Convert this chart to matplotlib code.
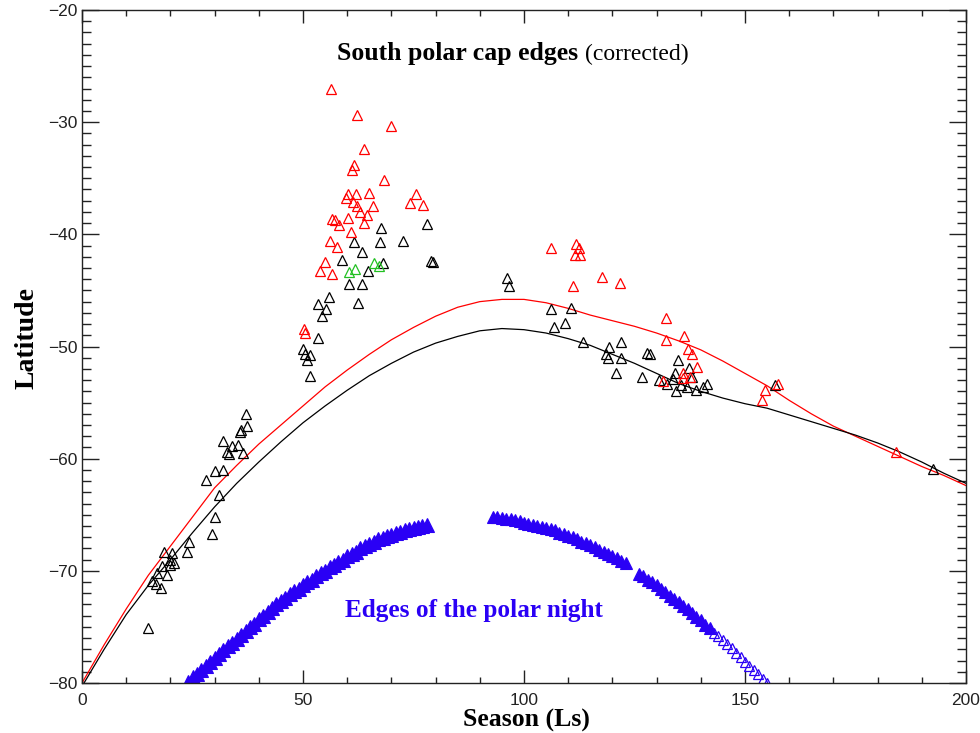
import matplotlib
matplotlib.use("Agg")
import matplotlib.pyplot as plt
from matplotlib.ticker import MultipleLocator

# model curves (Ls, latitude)
curve_ls = [0, 5, 10, 15, 20, 25, 30, 35, 40, 45, 50, 55, 60, 65, 70, 75, 80, 85, 90, 95,
            100, 105, 110, 115, 120, 125, 130, 135, 140, 145, 150, 155, 160, 165, 170, 175,
            180, 185, 190, 195, 200]
black_curve = [-80.3, -77.0, -73.9, -71.3, -69.0, -66.6, -64.3, -62.2, -60.3, -58.5, -56.8,
               -55.3, -53.9, -52.6, -51.5, -50.5, -49.7, -49.1, -48.6, -48.4, -48.5, -48.8,
               -49.3, -49.9, -50.7, -51.5, -52.4, -53.3, -54.0, -54.6, -55.1, -55.5, -56.1,
               -56.7, -57.3, -57.9, -58.6, -59.4, -60.3, -61.3, -62.2]
red_curve = [-80.0, -76.6, -73.4, -70.4, -67.8, -65.2, -62.6, -60.6, -58.7, -57.0, -55.3,
             -53.6, -52.1, -50.7, -49.4, -48.3, -47.3, -46.5, -46.0, -45.8, -45.8, -46.1,
             -46.6, -47.2, -47.7, -48.2, -48.8, -49.5, -50.3, -51.3, -52.4, -53.5, -54.8,
             -56.0, -57.1, -58.0, -58.9, -59.8, -60.7, -61.5, -62.4]

# observed cap edges
black_ls = [15.0, 15.8, 16.7, 16.9, 17.9, 18.0, 18.6, 19.2, 19.8, 19.9, 20.3, 20.8, 23.7, 24.2,
            28.1, 29.4, 30.0, 30.9, 30.2, 32.0, 31.8, 32.7, 33.3, 33.9, 35.3, 35.8, 36.0, 36.5,
            37.3, 37.0, 50.0, 50.4, 50.8, 51.5, 51.6, 53.3, 53.5, 54.3, 55.3, 55.9, 58.8, 60.4,
            61.6, 62.5, 63.3, 63.3, 64.8, 67.5, 67.7, 68.2, 72.6, 78.1, 79.0, 79.4,
            96.2, 96.7, 106.0, 106.9, 109.3, 110.7, 113.4, 118.6, 119.1, 119.2, 120.8, 121.9,
            121.9, 126.8, 127.9, 128.6, 130.6, 132.3, 133.8, 134.2, 134.5, 134.9, 135.5, 136.8,
            137.4, 137.9, 139.0, 140.6, 141.3, 156.8, 192.6]
black_lat = [-75.1, -70.9, -71.2, -70.2, -71.5, -69.6, -68.3, -70.4, -69.0, -69.5, -68.4, -69.3,
             -68.3, -67.4, -61.9, -66.7, -65.2, -63.2, -61.1, -61.0, -58.4, -59.4, -59.6, -58.9,
             -58.8, -57.6, -57.4, -59.5, -57.1, -56.0, -50.2, -50.7, -51.2, -50.8, -52.6, -49.2,
             -46.2, -47.3, -46.7, -45.6, -42.3, -44.4, -40.7, -46.1, -41.6, -44.4, -43.3, -40.7,
             -39.4, -42.6, -40.6, -39.1, -42.4, -42.5,
             -43.9, -44.6, -46.7, -48.3, -47.9, -46.6, -49.6, -50.7, -51.0, -50.0, -52.4, -49.6,
             -51.0, -52.7, -50.6, -50.7, -53.0, -53.3, -52.9, -52.4, -54.0, -51.2, -53.4, -53.6,
             -51.9, -52.7, -53.9, -53.6, -53.3, -53.4, -60.9]

red_ls = [50.2, 50.5, 53.8, 55.0, 56.1, 56.3, 56.5, 56.5, 57.3, 57.6, 58.2, 59.7, 60.2, 60.2,
          60.9, 61.1, 61.2, 61.5, 62.1, 62.2, 62.3, 62.9, 63.7, 63.8, 64.5, 64.9, 65.9, 68.4,
          69.8, 74.3, 75.6, 77.1,
          106.1, 111.0, 111.5, 111.8, 112.5, 112.7, 117.6, 121.8, 131.5, 132.1, 132.1, 136.0,
          136.0, 136.1, 137.2, 137.6, 137.9, 139.2, 153.8, 154.5, 157.5, 184.2]
red_lat = [-48.4, -48.8, -43.3, -42.5, -40.6, -27.0, -38.6, -43.5, -38.7, -41.1, -39.2, -36.8,
           -36.4, -38.5, -39.8, -34.3, -37.1, -33.8, -36.4, -29.4, -37.5, -38.0, -39.0, -32.4,
           -38.3, -36.3, -37.5, -35.2, -30.3, -37.2, -36.4, -37.4,
           -41.2, -44.6, -41.8, -40.9, -41.2, -41.8, -43.8, -44.3, -53.1, -47.5, -49.4, -52.4,
           -52.8, -49.1, -50.2, -52.7, -50.7, -51.8, -54.8, -53.9, -53.3, -59.4]

green_ls = [60.4, 61.8, 66.1, 67.3]
green_lat = [-43.4, -43.1, -42.6, -42.8]

# edges of the polar night
night_left_ls = list(range(24, 79))
night_left_lat = [-79.9, -79.5, -79.2, -78.8, -78.5, -78.1, -77.8, -77.4, -77.1, -76.7, -76.4,
                  -76.1, -75.7, -75.4, -75.0, -74.7, -74.3, -74.0, -73.7, -73.3, -73.0, -72.7,
                  -72.4, -72.1, -71.8, -71.6, -71.3, -71.0, -70.8, -70.5, -70.2, -70.0, -69.7,
                  -69.5, -69.2, -69.0, -68.7, -68.5, -68.3, -68.0, -67.8, -67.6, -67.4, -67.2,
                  -67.1, -66.9, -66.8, -66.6, -66.5, -66.4, -66.3, -66.2, -66.1, -66.0, -65.9]
night_right_ls = list(range(93, 124)) + list(range(126, 143))
night_right_lat = [-65.2, -65.2, -65.3, -65.4, -65.4, -65.5, -65.6, -65.7, -65.8, -65.9, -66.0,
                   -66.1, -66.2, -66.3, -66.4, -66.6, -66.7, -66.9, -67.0, -67.2, -67.4, -67.5,
                   -67.7, -67.9, -68.1, -68.3, -68.5, -68.7, -68.9, -69.1, -69.3,
                   -70.3, -70.5, -70.8, -71.0, -71.3, -71.6, -71.9, -72.2, -72.5, -72.8, -73.1,
                   -73.4, -73.8, -74.1, -74.4, -74.8, -75.1]
night_tail_ls = [143, 144, 145, 146, 147, 148, 149, 150, 151, 152, 153, 154, 155]
night_tail_lat = [-75.5, -75.8, -76.2, -76.5, -76.9, -77.3, -77.7, -78.1, -78.5, -78.8, -79.2,
                  -79.6, -80.0]

blue = "#2a00f5"
serif = ["Liberation Serif", "DejaVu Serif"]

fig = plt.figure(figsize=(9.8, 7.33), dpi=100)
ax = fig.add_axes([82 / 980, 1 - 683 / 733, 884 / 980, 673 / 733])

ax.plot(curve_ls, red_curve, color="red", lw=0.9)
ax.plot(curve_ls, black_curve, color="black", lw=0.9)

tri = dict(marker="^", linestyle="none", markersize=6.8, markeredgewidth=0.9,
           markerfacecolor="none")
ax.plot(black_ls, black_lat, markeredgecolor="black", **tri)
ax.plot(red_ls, red_lat, markeredgecolor="red", **tri)
ax.plot(green_ls, green_lat, markeredgecolor="#22c022", **tri)

ax.plot(night_left_ls, night_left_lat, marker="^", linestyle="none", markersize=9.5,
        color=blue, markeredgewidth=0.8)
ax.plot(night_right_ls, night_right_lat, marker="^", linestyle="none", markersize=8.5,
        color=blue, markeredgewidth=0.8)
ax.plot(night_tail_ls, night_tail_lat, marker="^", linestyle="none", markersize=6.8,
        markerfacecolor="none", markeredgecolor=blue, markeredgewidth=0.9)

ax.set_xlim(0, 200)
ax.set_ylim(-80, -20)
ax.xaxis.set_major_locator(MultipleLocator(50))
ax.xaxis.set_minor_locator(MultipleLocator(10))
ax.yaxis.set_major_locator(MultipleLocator(10))
ax.yaxis.set_minor_locator(MultipleLocator(1))
ax.tick_params(which="both", direction="in", top=True, right=True, width=1, color="#222222",
               labelsize=12.5, labelcolor="#222222")
ax.tick_params(axis="x", which="major", length=9.5, pad=7)
ax.tick_params(axis="x", which="minor", length=4.5)
ax.tick_params(axis="y", which="major", length=12, pad=3)
ax.tick_params(axis="y", which="minor", length=6.5)
for lab in ax.get_xticklabels() + ax.get_yticklabels():
    lab.set_family(["Liberation Sans", "DejaVu Sans"])
for s in ax.spines.values():
    s.set_linewidth(1.0)
    s.set_color("#222222")

ax.set_xlabel("Season (Ls)", family=serif, fontweight="bold", fontsize=18.5)
ax.set_ylabel("Latitude", family=serif, fontweight="bold", fontsize=20)
ax.xaxis.set_label_coords(0.503, -0.038)
ax.yaxis.set_label_coords(-0.048, 0.513)

ax.text(57.7, -24.46, "South polar cap edges", family=serif, fontweight="bold",
        fontsize=18.5, va="baseline", ha="left")
ax.text(113.7, -24.46, "(corrected)", family=serif, fontsize=17, va="baseline", ha="left")
ax.text(59.5, -74.1, "Edges of the polar night", family=serif, fontweight="bold",
        fontsize=18.2, color=blue, va="baseline", ha="left")

fig.savefig("out.png", dpi=100)
